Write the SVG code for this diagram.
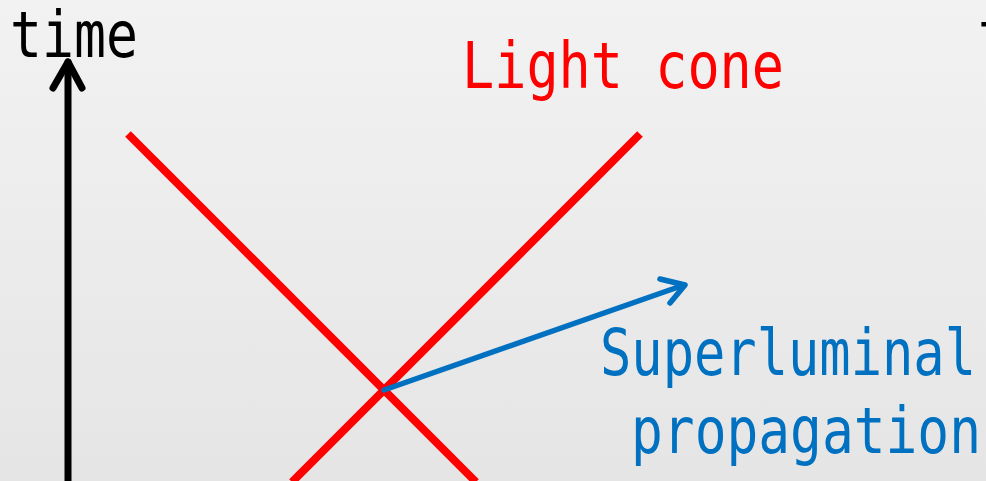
<svg xmlns="http://www.w3.org/2000/svg" width="986" height="481" viewBox="0 0 986 481">
<defs>
<linearGradient id="bg" x1="0" y1="0" x2="0" y2="1">
<stop offset="0" stop-color="#f2f2f2"/>
<stop offset="1" stop-color="#e5e5e5"/>
</linearGradient>
</defs>
<style>
text{font-family:"DejaVu Sans Mono","Liberation Mono",monospace;font-size:64px}
.red{stroke:#ff0000;stroke-width:8;fill:none}
.blue{stroke:#0070c0;stroke-width:5.5;fill:none;stroke-linecap:round;stroke-linejoin:round}
.axis{stroke:#000;stroke-width:7;fill:none;stroke-linecap:round;stroke-linejoin:round}
</style>
<rect width="986" height="481" fill="url(#bg)"/>
<g id="connectors">
<line class="red" x1="128" y1="134" x2="476" y2="482"/>
<line class="red" x1="640" y1="134" x2="292" y2="482"/>
<line class="blue" x1="384" y1="390" x2="684" y2="285"/>
<polyline class="blue" points="660,279 685,285 670,303"/>
<line class="axis" x1="68" y1="62" x2="68" y2="485"/>
<polyline class="axis" points="53,88 68,62 82,88"/>
</g>
<g id="time-label"><text x="10" y="57" textLength="128" lengthAdjust="spacingAndGlyphs" fill="#000">time</text></g>
<g id="time-label-2"><text x="978" y="57" textLength="128" lengthAdjust="spacingAndGlyphs" fill="#000">time</text></g>
<g id="light-cone"><text x="462" y="88" textLength="322" lengthAdjust="spacingAndGlyphs" fill="#ff0000">Light cone</text></g>
<g id="superluminal">
<text x="600" y="375" textLength="376" lengthAdjust="spacingAndGlyphs" fill="#0070c0">Superluminal</text>
<text x="631" y="453" textLength="350" lengthAdjust="spacingAndGlyphs" fill="#0070c0">propagation</text>
</g>
</svg>
